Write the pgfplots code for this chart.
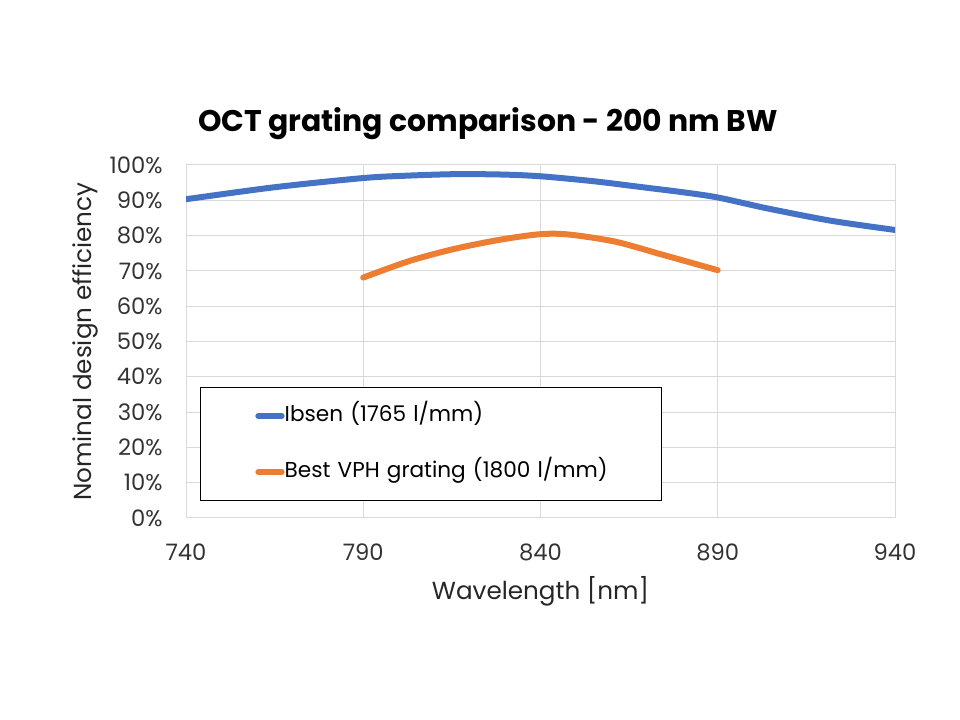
\documentclass[border=0pt]{standalone}
\usepackage{pgfplots}
\pgfplotsset{compat=1.18}
\usepackage{fontspec}
\setmainfont{Poppins}

\definecolor{ibsen}{HTML}{4472C4}
\definecolor{vph}{HTML}{ED7D31}
\definecolor{gridgray}{HTML}{D9D9D9}

\begin{document}
\begin{tikzpicture}
\path[use as bounding box] (0,0) rectangle (720pt,540pt);
\begin{axis}[
  at={(139.5pt,151.5pt)}, anchor=south west,
  scale only axis,
  width=531.75pt, height=264.75pt,
  xmin=740, xmax=940, ymin=0, ymax=100,
  xtick={740,790,840,890,940},
  ytick={0,10,...,100},
  yticklabel={\pgfmathprintnumber{\tick}\%},
  /pgf/number format/assume math mode=true,
  xticklabel style={/pgf/number format/1000 sep={}},
  tick style={draw=none},
  axis line style={draw=gridgray, line width=0.75pt},
  grid=major,
  major grid style={draw=gridgray, line width=0.75pt},
  tick label style={font=\fontsize{17}{20}\selectfont, text=black!80},
  xticklabel style={yshift=-16pt},
  yticklabel style={xshift=-14pt},
  xlabel={Wavelength [nm]},
  ylabel={Nominal design efficiency},
  label style={font=\fontsize{18.5}{21}\selectfont, text=black!85},
  xlabel style={at={(0.5,0)}, anchor=center, yshift=-54.75pt},
  ylabel style={at={(0,0.5)}, anchor=center, yshift=75.75pt},
  title={\bfseries OCT grating comparison - 200 nm BW},
  title style={at={(0.426,1)}, anchor=center, yshift=25pt, font=\fontsize{22.4}{26}\selectfont},
  legend style={at={(0.0197,0.371)}, anchor=north west, draw=black, line width=0.6pt,
    inner xsep=41.25pt, inner ysep=14.5pt, row sep=28pt,
    font=\fontsize{16.2}{19}\selectfont,
    nodes={inner sep=0pt, text height=11pt, text depth=3pt, text width=241pt, align=left}},
  legend cell align=left,
  legend image code/.code={\draw[#1, line cap=round] (-20pt,0pt) -- (-2.5pt,0pt);},
]
\addplot[ibsen, line width=4.5pt, smooth, line cap=round] coordinates {
  (740,90.3) (765,93.7) (790,96.3) (803,97.0) (816,97.4) (829,97.3) (840,96.8)
  (855,95.4) (868,93.8) (880,92.3) (890,90.8) (904,87.7) (922,84.2) (940,81.6)
};
\addlegendentry{\mbox{Ibsen (1765 l/mm)}}
\addplot[vph, line width=4.5pt, smooth, line cap=round] coordinates {
  (790,68.1) (803,72.8) (816,76.3) (829,78.9) (840,80.4) (848,80.3)
  (861,78.3) (874,74.7) (890,70.2)
};
\addlegendentry{\mbox{Best VPH grating (1800 l/mm)}}
\end{axis}
\end{tikzpicture}
\end{document}
